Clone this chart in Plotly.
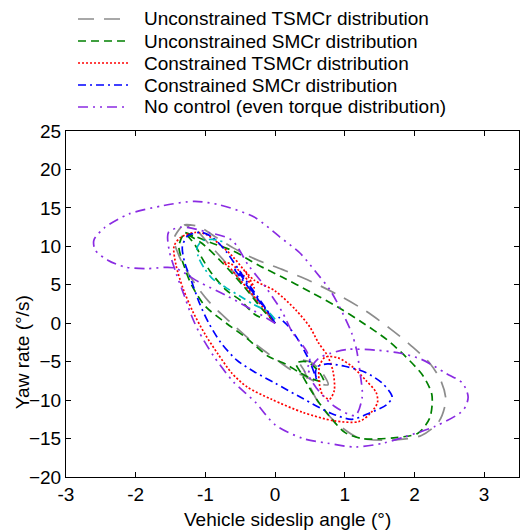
import plotly.graph_objects as go

# ---- data (sideslip angle in deg, yaw rate in deg/s) ----
names = ["Unconstrained TSMCr distribution",
         "Unconstrained SMCr distribution",
         "Constrained TSMCr distribution",
         "Constrained SMCr distribution",
         "No control (even torque distribution)"]

gray_pts = [(0.0, 0.0), (-0.2, 2.2), (-0.45, 5.0), (-0.7, 7.8), (-0.95, 10.3), (-1.15, 12.3),
            (-1.3, 12.8), (-1.1, 12.6), (-0.85, 11.2), (-0.6, 9.8), (-0.3, 8.4), (0.1, 7.0),
            (0.5, 5.5), (0.9, 3.7), (1.3, 1.6), (1.65, -0.7), (1.95, -2.9), (2.22, -5.2),
            (2.38, -7.5), (2.45, -10.0), (2.35, -12.8), (2.1, -14.6), (1.7, -15.2), (1.2, -14.9),
            (0.95, -13.5), (0.75, -11.8), (0.6, -10.0), (0.5, -8.2), (0.42, -6.2), (0.33, -4.8),
            (0.52, -5.1), (0.68, -6.5), (0.76, -8.0), (0.62, -7.8), (0.45, -7.0), (0.25, -6.2),
            (0.0, -4.6), (-0.3, -2.6), (-0.65, 0.2), (-0.95, 2.8), (-1.2, 5.8), (-1.38, 8.8),
            (-1.45, 11.0), (-1.35, 12.5)]

green_pts = [(0.0, 0.0), (-0.2, 2.0), (-0.45, 4.8), (-0.75, 7.8), (-1.05, 10.4), (-1.3, 11.8),
             (-1.15, 11.3), (-0.9, 10.4), (-0.6, 9.4), (-0.25, 7.6), (0.1, 6.0), (0.5, 4.1),
             (0.9, 2.1), (1.25, 0.1), (1.6, -2.1), (1.88, -4.4), (2.12, -6.8), (2.25, -9.3),
             (2.22, -12.3), (2.05, -14.3), (1.7, -14.9), (1.25, -15.0), (1.0, -14.2), (0.8, -12.3),
             (0.62, -10.2), (0.48, -8.2), (0.38, -6.6), (0.3, -5.2), (0.45, -5.0), (0.62, -6.2),
             (0.7, -7.6), (0.55, -7.3), (0.35, -6.4), (0.15, -5.3), (-0.1, -4.3), (-0.4, -2.0),
             (-0.7, 0.0), (-1.0, 2.2), (-1.2, 5.0), (-1.3, 7.3), (-1.38, 10.0), (-1.3, 11.6),
             (-1.15, 10.2), (-1.05, 8.5), (-0.92, 6.6), (-0.7, 4.3), (-0.5, 3.0), (-0.3, 1.2),
             (-0.15, 0.5)]

red_pts = [(0.0, 0.0), (-0.22, 2.6), (-0.48, 5.4), (-0.68, 7.5), (-0.74, 7.9), (-0.63, 7.7),
           (-0.45, 6.2), (-0.3, 4.6), (-0.4, 6.3), (-0.6, 8.6), (-0.8, 10.3), (-1.0, 11.6),
           (-1.15, 11.8), (-1.35, 11.2), (-1.45, 10.0), (-1.42, 7.5), (-1.32, 4.5), (-1.18, 1.5),
           (-1.0, -1.5), (-0.82, -4.0), (-0.62, -6.5), (-0.4, -8.3), (-0.05, -9.9), (0.4, -11.6),
           (0.85, -12.7), (1.2, -12.8), (1.36, -11.8), (1.47, -10.3), (1.45, -9.0), (1.3, -7.4),
           (1.1, -5.6), (0.9, -4.5), (0.72, -4.4), (0.64, -5.5), (0.63, -7.5), (0.68, -9.3),
           (0.78, -9.9), (0.85, -8.7), (0.83, -6.2), (0.75, -4.2), (0.62, -2.5), (0.5, -0.5),
           (0.3, 1.7), (0.0, 4.2), (-0.3, 5.6), (-0.45, 7.0)]

blue_pts = [(0.0, 0.0), (-0.1, 1.5), (-0.3, 3.8), (-0.5, 6.3), (-0.6, 7.2), (-0.55, 6.6),
            (-0.35, 4.3), (-0.15, 2.0), (-0.05, 0.8), (-0.2, 2.8), (-0.45, 6.0), (-0.7, 9.3),
            (-0.9, 11.2), (-1.05, 11.8), (-1.25, 11.4), (-1.33, 10.0), (-1.3, 8.0), (-1.2, 5.5),
            (-1.08, 2.5), (-0.95, 0.0), (-0.78, -2.5), (-0.55, -4.8), (-0.3, -6.3), (0.0, -7.8),
            (0.4, -9.8), (0.8, -11.7), (1.1, -12.5), (1.35, -11.7), (1.6, -10.6), (1.68, -9.6),
            (1.55, -7.9), (1.3, -6.4), (1.0, -5.6), (0.75, -5.3), (0.6, -5.7), (0.58, -6.6),
            (0.6, -7.4), (0.5, -5.0), (0.42, -3.6), (0.32, -2.0), (0.17, -0.2), (0.05, 0.8)]

cyan_pts = [(0.0, 0.5), (-0.1, 1.5), (-0.3, 2.4), (-0.5, 3.5), (-0.7, 4.6), (-0.9, 5.8),
            (-1.02, 7.2), (-1.1, 8.6), (-1.12, 9.8), (-1.05, 10.7), (-0.9, 10.9), (-0.75, 10.6)]

purple_pts = [(0.0, 0.0), (-0.3, 1.6), (-0.7, 3.6), (-1.1, 5.4), (-1.45, 7.2), (-1.85, 7.1),
              (-2.15, 7.3), (-2.4, 8.2), (-2.58, 9.5), (-2.6, 10.8), (-2.45, 12.4), (-2.1, 14.2),
              (-1.6, 15.3), (-1.15, 15.85), (-0.8, 15.4), (-0.3, 13.8), (0.07, 11.2), (0.36, 9.1),
              (0.6, 6.5), (0.79, 4.3), (0.97, 1.3), (1.1, -1.3), (1.17, -3.5), (1.22, -6.5),
              (1.25, -9.6), (1.15, -12.0), (0.85, -10.8), (0.6, -8.5), (0.48, -6.5), (0.62, -4.6),
              (0.8, -3.9), (1.05, -3.4), (1.45, -3.5), (1.8, -3.9), (2.1, -4.7), (2.45, -6.5),
              (2.69, -7.8), (2.77, -9.6), (2.7, -11.3), (2.3, -13.4), (1.85, -14.8), (1.55, -15.6),
              (1.15, -16.1), (0.75, -15.6), (0.4, -15.0), (0.0, -13.2), (-0.28, -10.3),
              (-0.6, -7.6), (-0.88, -4.3), (-1.1, -1.0), (-1.2, 1.0), (-1.3, 3.5), (-1.42, 6.5),
              (-1.52, 9.5), (-1.53, 11.8), (-1.35, 12.5), (-0.95, 11.8), (-0.62, 10.8),
              (-0.38, 7.5), (-0.12, 4.5), (0.1, 1.5), (0.25, -1.2), (0.45, -3.6), (0.5, -5.0),
              (0.42, -6.3)]

x_ticks = [-3, -2, -1, 0, 1, 2, 3]
x_ticktext = ["-3", "-2", "-1", "0", "1", "2", "3"]
y_ticks = [-20, -15, -10, -5, 0, 5, 10, 15, 20, 25]

FONT = "Arial, Liberation Sans, sans-serif"
FS = 19
LW = 1.7

series = [
    (gray_pts, names[0], "#8c8c8c", "16px,10px", True),
    (green_pts, names[1], "#008000", "8px,5px", True),
    (red_pts, names[2], "#ff0000", "2px,2px", True),
    (blue_pts, names[3], "#0000ff", "8px,4px,2px,4px", True),
    (cyan_pts, "cyan", "#00bfbf", "8px,4px,2px,4px", False),
    (purple_pts, names[4], "#8a2be2", "10px,5px,2px,5px,2px,5px", True),
]

fig = go.Figure()
for pts, nm, col, dash, show in series:
    xs = [p[0] for p in pts]
    ys = [p[1] for p in pts]
    fig.add_trace(go.Scatter(x=xs, y=ys, mode="lines", name=nm, showlegend=False,
                             hoverinfo="skip",
                             line=dict(color=col, width=LW, dash=dash,
                                       shape="spline", smoothing=0.8)))

# manual legend (compact row spacing as in the reference)
shapes = []
annotations = []
legend_rows_y = [1.3237, 1.2601, 1.1965, 1.1329, 1.0694]
row = 0
for pts, nm, col, dash, show in series:
    if not show:
        continue
    yy = legend_rows_y[row]
    shapes.append(dict(type="line", xref="paper", yref="paper", x0=0.0265, x1=0.137,
                       y0=yy, y1=yy, line=dict(color=col, width=LW, dash=dash)))
    annotations.append(dict(text=nm, xref="paper", yref="paper", x=0.168, y=yy,
                            xanchor="left", yanchor="middle", showarrow=False,
                            font=dict(family=FONT, size=FS, color="black")))
    row += 1

annotations += [
    dict(text="Vehicle sideslip angle (°)", xref="paper", yref="paper",
         x=0.488, y=-0.123, showarrow=False, xanchor="center", yanchor="middle",
         font=dict(family=FONT, size=FS, color="black")),
    dict(text="Yaw rate (°/s)", xref="paper", yref="paper", textangle=-90,
         x=-0.097, y=0.361, showarrow=False, xanchor="center", yanchor="middle",
         font=dict(family=FONT, size=FS, color="black")),
]

axis_common = dict(showline=True, linecolor="black", linewidth=1, mirror="ticks",
                   ticks="inside", ticklen=5, tickcolor="black", showgrid=False,
                   zeroline=False, tickfont=dict(family=FONT, size=FS, color="black"))

fig.update_xaxes(range=[-3, 3.5], tickvals=x_ticks, ticktext=x_ticktext, **axis_common)
fig.update_yaxes(range=[-20, 25], tickvals=y_ticks, **axis_common)

fig.update_layout(
    width=520, height=531,
    margin=dict(l=66, r=1, t=131, b=54, autoexpand=False),
    paper_bgcolor="white", plot_bgcolor="white",
    font=dict(family=FONT, size=FS, color="black"),
    showlegend=False,
    hovermode=False,
    shapes=shapes,
    annotations=annotations,
)

fig.write_html("out.html", config={"displayModeBar": False},
               post_script="document.body.style.margin='0';document.body.style.overflow='hidden';")
